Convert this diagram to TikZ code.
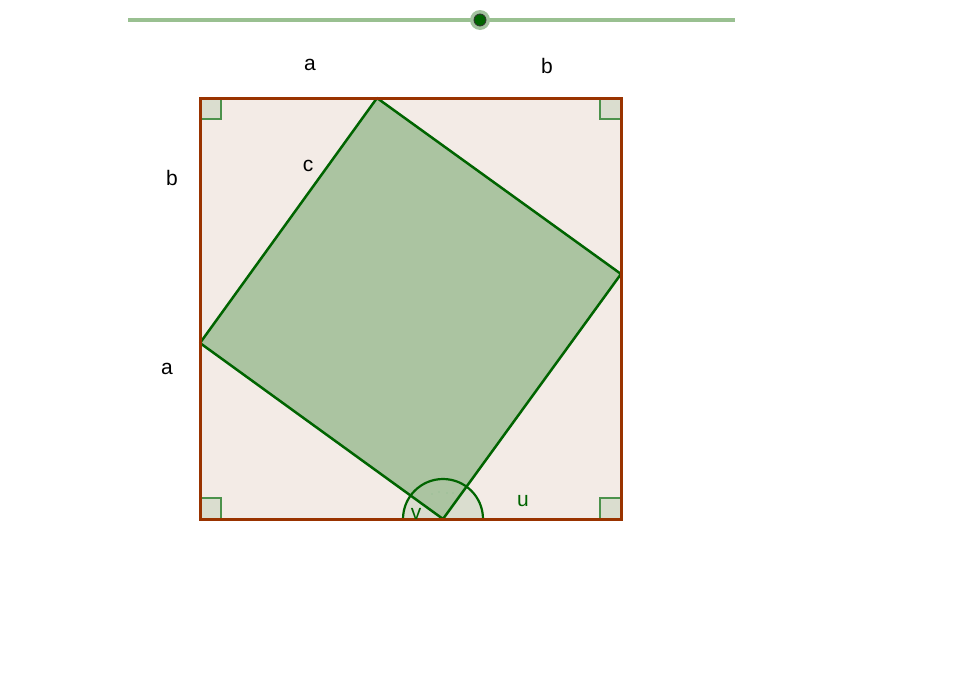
\documentclass[tikz,border=0pt]{standalone}
\usepackage{fontspec}
\setmainfont{Liberation Sans}
\definecolor{outerfill}{RGB}{243,235,230}
\definecolor{brownline}{RGB}{153,51,0}
\definecolor{innerfill}{RGB}{171,196,161}
\definecolor{dgreen}{RGB}{0,100,0}
\definecolor{markfill}{RGB}{218,221,207}
\definecolor{sliderline}{RGB}{153,192,145}
\definecolor{halo}{RGB}{140,180,135}
\tikzset{
  lbl/.style={font=\fontsize{21}{21}\selectfont, text=black, inner sep=0pt},
  glbl/.style={font=\fontsize{21}{21}\selectfont, text=dgreen, inner sep=0pt},
  rmark/.style={fill=markfill, draw=dgreen!70, line width=1.3pt},
}
\begin{document}
\begin{tikzpicture}[x=1pt,y=-1pt]
\useasboundingbox (0,0) rectangle (958,675);
% slider
\coordinate (s1) at (128,20);
\coordinate (s2) at (735,20);
\draw[sliderline, line width=3.5pt] (s1) -- (s2);
\node[circle, fill=halo!80, minimum size=20pt, inner sep=0pt] (sp) at (480,20) {};
\node[circle, fill=dgreen, draw=black!80, line width=0.8pt, minimum size=12pt, inner sep=0pt] at (sp) {};
% outer square
\coordinate (P1) at (200,98);
\coordinate (P2) at (621,98);
\coordinate (P3) at (621,519);
\coordinate (P4) at (200,519);
\fill[outerfill] (P1) rectangle (P3);
% right angle markers
\draw[rmark] (200,98) rectangle (221,119);
\draw[rmark] (600,98) rectangle (621,119);
\draw[rmark] (200,498) rectangle (221,519);
\draw[rmark] (600,498) rectangle (621,519);
% inner square
\coordinate (A) at (377,98);
\coordinate (B) at (621,274);
\coordinate (C) at (443,519);
\coordinate (D) at (200,343);
% angle semicircle fill
\fill[markfill] (C) ++(40,0) arc[start angle=0, end angle=-180, radius=40] -- cycle;
\fill[innerfill] (A) -- (B) -- (C) -- (D) -- cycle;
\draw[dgreen, line width=2.2pt] (C) ++(40,0) arc[start angle=0, end angle=-180, radius=40];
\foreach \px/\py in {432/494, 439/492, 447/493, 453/493}
  \fill[dgreen!45] (\px,\py) circle (0.7);
\draw[dgreen, line width=2.5pt, line join=round] (A) -- (B) -- (C) -- (D) -- cycle;
% outer border
\draw[brownline, line width=3pt] (P1) -- (P2) -- (P3) -- (P4) -- cycle;
% labels
\node[lbl] (la1) at (310,65) {a};
\node[lbl] (lb1) at (547,66) {b};
\node[lbl] (lb2) at (172,178) {b};
\node[lbl] (lc) at (308,166) {c};
\node[lbl] (la2) at (167,369) {a};
\node[glbl] (lu) at (523,501) {u};
\node[glbl] (lv) at (416,514) {v};
\end{tikzpicture}
\end{document}
